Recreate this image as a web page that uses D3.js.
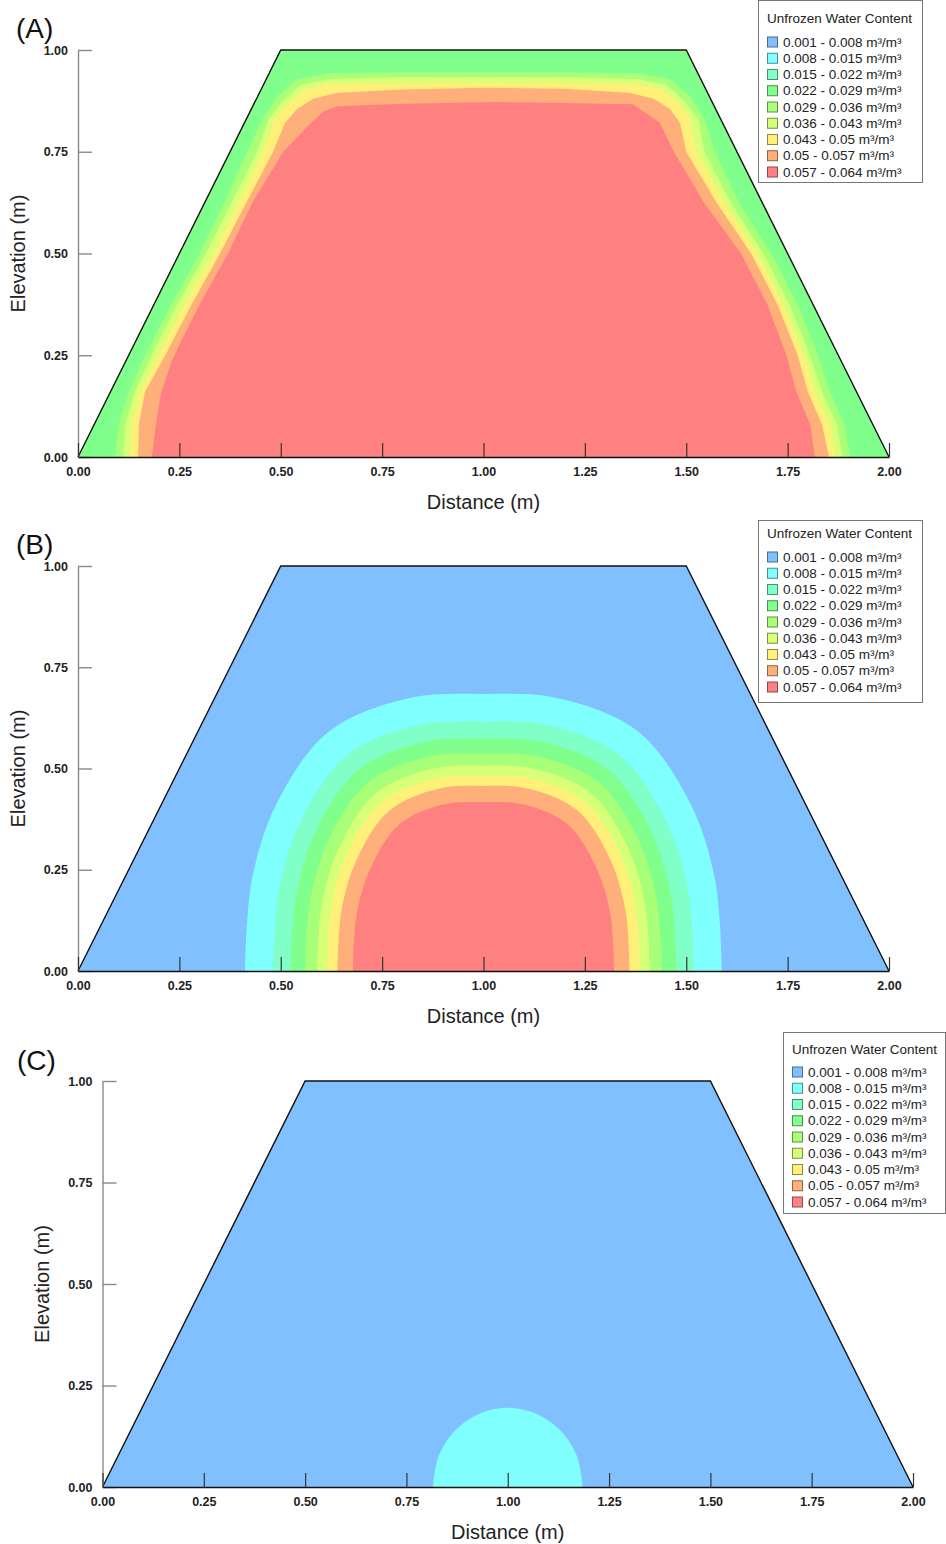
<!DOCTYPE html>
<html>
<head>
<meta charset="utf-8">
<script src="https://cdn.jsdelivr.net/npm/d3@7"></script>
<style>
  body { margin: 0; background: #fff; }
  svg  { display: block; font-family: "Liberation Sans", Arial, sans-serif; }
</style>
</head>
<body>
<svg id="fig" width="946" height="1544"></svg>
<script>
// Unfrozen water content in an embankment cross-section, three stages (A, B, C)

// ---------- data ----------
const xTicks = [0, 0.25, 0.5, 0.75, 1.0, 1.25, 1.5, 1.75, 2.0];
const yTicks = [0, 0.25, 0.5, 0.75, 1.0];

const legendTitle  = 'Unfrozen Water Content';
const legendLabels = [
  '0.001 - 0.008 m³/m³', '0.008 - 0.015 m³/m³', '0.015 - 0.022 m³/m³',
  '0.022 - 0.029 m³/m³', '0.029 - 0.036 m³/m³', '0.036 - 0.043 m³/m³',
  '0.043 - 0.05 m³/m³',  '0.05 - 0.057 m³/m³',  '0.057 - 0.064 m³/m³'
];
const bandColours = ['#80c0ff', '#80ffff', '#80ffc8', '#80ff8c', '#a8ff78',
                     '#d8ff78', '#fff07a', '#ffb07a', '#ff8080'];

// section outline (distance m, elevation m)
const damOutline = [[0, 0], [0.5, 1], [1.5, 1], [2, 0]];

// panel A: outer edge of each band
const aLightGreen = [[0.091,0],[0.100,0.08],[0.125,0.16],[0.165,0.25],[0.23,0.375],[0.30,0.5],[0.36,0.625],[0.417,0.75],
  [0.455,0.83],[0.49,0.885],[0.54,0.928],[0.62,0.943],[0.80,0.946],[1.0,0.946],[1.2,0.946],
  [1.38,0.943],[1.46,0.928],[1.51,0.885],[1.545,0.83],
  [1.57,0.75],[1.63,0.625],[1.71,0.5],[1.775,0.375],[1.825,0.25],[1.855,0.16],[1.89,0.08],[1.905,0]];
const aYellowGreen = [[0.111,0],[0.117,0.08],[0.140,0.16],[0.182,0.25],[0.245,0.375],[0.315,0.5],[0.378,0.625],[0.441,0.75],
  [0.47,0.83],[0.505,0.875],[0.55,0.915],[0.62,0.929],[0.80,0.933],[1.0,0.933],[1.2,0.933],
  [1.38,0.929],[1.45,0.915],[1.495,0.875],[1.53,0.83],
  [1.545,0.75],[1.61,0.625],[1.69,0.5],[1.755,0.375],[1.805,0.25],[1.835,0.16],[1.872,0.08],[1.885,0]];
const aYellow = [[0.128,0],[0.133,0.08],[0.152,0.16],[0.198,0.25],[0.262,0.375],[0.335,0.5],[0.395,0.625],[0.457,0.75],
  [0.485,0.83],[0.52,0.87],[0.56,0.903],[0.62,0.916],[0.80,0.920],[1.0,0.921],[1.2,0.920],
  [1.38,0.916],[1.44,0.903],[1.48,0.87],[1.51,0.83],
  [1.525,0.75],[1.595,0.625],[1.675,0.5],[1.74,0.375],[1.79,0.25],[1.818,0.16],[1.855,0.08],[1.868,0]];
const aOrange = [[0.148,0],[0.150,0.08],[0.165,0.16],[0.215,0.25],[0.28,0.375],[0.350,0.5],[0.415,0.625],[0.481,0.75],
  [0.51,0.82],[0.54,0.855],[0.58,0.88],[0.64,0.895],[0.80,0.903],[1.0,0.907],[1.2,0.905],
  [1.36,0.895],[1.42,0.88],[1.46,0.855],[1.485,0.82],
  [1.50,0.75],[1.575,0.625],[1.66,0.5],[1.725,0.375],[1.775,0.25],[1.80,0.16],[1.835,0.08],[1.852,0]];
const aRed = [[0.182,0],[0.192,0.08],[0.205,0.16],[0.232,0.238],[0.252,0.28],[0.30,0.375],[0.37,0.5],[0.43,0.625],[0.506,0.75],
  [0.565,0.811],[0.604,0.848],[0.639,0.862],[0.80,0.868],[1.041,0.872],[1.2,0.870],[1.369,0.867],
  [1.435,0.821],[1.467,0.754],[1.544,0.625],[1.635,0.5],[1.70,0.375],[1.747,0.25],[1.772,0.16],[1.806,0.08],[1.817,0]];

// panel B: domes around the centre line
const bCyan   = [[0.412,0],[0.429,0.226],[0.493,0.42],[0.621,0.593],[0.818,0.674],[1.0,0.684],[1.182,0.674],[1.379,0.593],[1.507,0.42],[1.571,0.226],[1.588,0]];
const bAqua   = [[0.481,0],[0.496,0.203],[0.553,0.378],[0.665,0.534],[0.839,0.607],[1.0,0.616],[1.161,0.607],[1.335,0.534],[1.447,0.378],[1.504,0.203],[1.519,0]];
const bGreen  = [[0.524,0],[0.538,0.189],[0.59,0.352],[0.693,0.498],[0.852,0.565],[1.0,0.574],[1.148,0.565],[1.307,0.498],[1.41,0.352],[1.462,0.189],[1.476,0]];
const bLightGreen  = [[0.56,0],[0.573,0.177],[0.621,0.33],[0.716,0.466],[0.864,0.529],[1.0,0.537],[1.136,0.529],[1.284,0.466],[1.379,0.33],[1.427,0.177],[1.44,0]];
const bYellowGreen = [[0.59,0],[0.602,0.167],[0.647,0.311],[0.736,0.44],[0.873,0.499],[1.0,0.507],[1.127,0.499],[1.264,0.44],[1.353,0.311],[1.398,0.167],[1.41,0]];
const bYellow = [[0.614,0],[0.625,0.159],[0.667,0.296],[0.751,0.418],[0.88,0.475],[1.0,0.482],[1.12,0.475],[1.249,0.418],[1.333,0.296],[1.375,0.159],[1.386,0]];
const bOrange = [[0.64,0],[0.65,0.151],[0.69,0.281],[0.768,0.396],[0.888,0.45],[1.0,0.457],[1.112,0.45],[1.232,0.396],[1.31,0.281],[1.35,0.151],[1.36,0]];
const bRed    = [[0.678,0],[0.687,0.138],[0.722,0.256],[0.792,0.362],[0.9,0.411],[1.0,0.417],[1.1,0.411],[1.208,0.362],[1.278,0.256],[1.313,0.138],[1.322,0]];

// panel C
const cCyan = [[0.815,0],[0.829,0.075],[0.869,0.138],[0.929,0.18],[1.0,0.195],[1.071,0.18],[1.131,0.138],[1.171,0.075],[1.185,0]];

// ---------- layout ----------
const PANELS = [
  { id: 'A', left: 78, right: 889, top: 50, bottom: 457, base: 3, curve: d3.curveLinear,
    bands: [{lv:4, pts:aLightGreen}, {lv:5, pts:aYellowGreen}, {lv:6, pts:aYellow}, {lv:7, pts:aOrange}, {lv:8, pts:aRed}],
    tag: [16, 38], yTitleX: 25,
    legend: { x: 758, y: 0, w: 164, h: 182, title: 18, first: 42 } },
  { id: 'B', left: 78, right: 889, top: 566, bottom: 971, base: 0, curve: d3.curveCatmullRom,
    bands: [{lv:1, pts:bCyan}, {lv:2, pts:bAqua}, {lv:3, pts:bGreen}, {lv:4, pts:bLightGreen},
            {lv:5, pts:bYellowGreen}, {lv:6, pts:bYellow}, {lv:7, pts:bOrange}, {lv:8, pts:bRed}],
    tag: [16, 554], yTitleX: 25,
    legend: { x: 758, y: 520, w: 164, h: 182, title: 533, first: 557 } },
  { id: 'C', left: 102.5, right: 913, top: 1081, bottom: 1487, base: 0, curve: d3.curveCatmullRom,
    bands: [{lv:1, pts:cCyan}],
    tag: [17, 1070], yTitleX: 49,
    legend: { x: 783, y: 1032, w: 162, h: 181, title: 1049, first: 1072 } }
];
const LEG_STEP = 16.25;

const svg  = d3.select('#fig');
const defs = svg.append('defs');

PANELS.forEach(p => {
  const x = d3.scaleLinear().domain([0, 2]).range([p.left, p.right]);
  const y = d3.scaleLinear().domain([0, 1]).range([p.bottom, p.top]);
  const g = svg.append('g').attr('class', 'panel' + p.id);

  const outline = d3.line().x(d => x(d[0])).y(d => y(d[1]));
  const band    = d3.line().x(d => x(d[0])).y(d => y(d[1])).curve(p.curve);

  defs.append('clipPath').attr('id', 'clip' + p.id)
    .append('path').attr('d', outline(damOutline) + 'Z');

  /* background band */
  g.append('path').attr('d', outline(damOutline) + 'Z').attr('fill', bandColours[p.base]);

  /* inner bands, outermost first */
  g.append('g').attr('clip-path', `url(#clip${p.id})`)
    .selectAll('path').data(p.bands).join('path')
      .attr('d', d => band(d.pts) + 'Z')
      .attr('fill', d => bandColours[d.lv]);

  /* outline */
  g.append('path').attr('d', outline(damOutline))
    .attr('fill', 'none').attr('stroke', '#111').attr('stroke-width', 1.4);

  /* axes */
  const ya = g.append('g').attr('transform', `translate(${p.left},0)`)
    .call(d3.axisLeft(y).tickValues(yTicks).tickFormat(d3.format('.2f'))
      .tickSizeInner(-14).tickSizeOuter(0).tickPadding(10));
  ya.select('.domain').attr('stroke', '#888').attr('stroke-width', 1.4);
  ya.selectAll('.tick line').attr('stroke', '#888').attr('stroke-width', 1.4);

  const xa = g.append('g').attr('transform', `translate(0,${p.bottom})`)
    .call(d3.axisBottom(x).tickValues(xTicks).tickFormat(d3.format('.2f'))
      .tickSizeInner(-14).tickSizeOuter(0).tickPadding(10));
  xa.select('.domain').attr('stroke', '#111').attr('stroke-width', 1.4);
  xa.selectAll('.tick line').attr('stroke', '#333').attr('stroke-width', 1.2);

  svg.selectAll(`.panel${p.id} .tick text`)
    .attr('font-size', 12.5).attr('font-weight', 'bold').attr('fill', '#222')
    .attr('font-family', '"Liberation Sans", Arial, sans-serif');

  /* titles */
  g.append('text').text('Distance (m)')
    .attr('x', (p.left + p.right) / 2).attr('y', p.bottom + 52)
    .attr('text-anchor', 'middle').attr('font-size', 20).attr('fill', '#222');
  g.append('text').text('Elevation (m)')
    .attr('transform', `translate(${p.yTitleX},${(p.top + p.bottom) / 2}) rotate(-90)`)
    .attr('text-anchor', 'middle').attr('font-size', 20).attr('fill', '#222');
  g.append('text').text(`(${p.id})`)
    .attr('x', p.tag[0]).attr('y', p.tag[1])
    .attr('font-size', 28).attr('fill', '#111');

  /* legend */
  const L = p.legend;
  const lg = g.append('g').attr('class', 'legend');
  lg.append('rect').attr('x', L.x + 0.5).attr('y', L.y + 0.5).attr('width', L.w).attr('height', L.h)
    .attr('fill', '#fff').attr('stroke', '#777').attr('stroke-width', 1);
  lg.append('text').text(legendTitle)
    .attr('x', L.x + 9).attr('y', L.title).attr('dy', '0.35em')
    .attr('font-size', 13.5).attr('fill', '#222');
  const item = lg.selectAll('g.item').data(legendLabels).join('g')
    .attr('class', 'item')
    .attr('transform', (d, i) => `translate(${L.x + 9},${L.first + i * LEG_STEP})`);
  item.append('rect').attr('x', 0.5).attr('y', -5).attr('width', 10).attr('height', 10)
    .attr('fill', (d, i) => bandColours[i])
    .attr('stroke', (d, i) => d3.color(bandColours[i]).darker(1.6)).attr('stroke-width', 1);
  item.append('text').text(d => d)
    .attr('x', 16).attr('dy', '0.35em')
    .attr('font-size', 13.5).attr('fill', '#222');
});
</script>
</body>
</html>
